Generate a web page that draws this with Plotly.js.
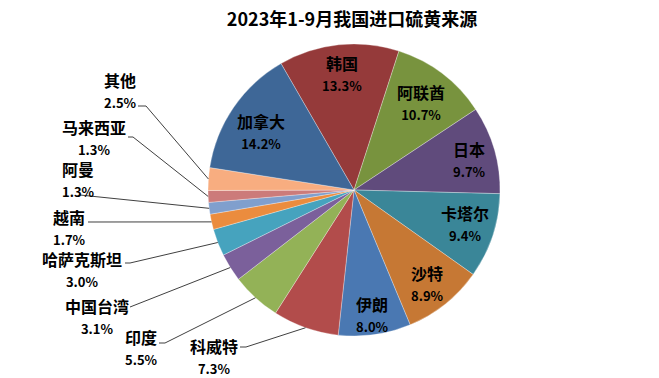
<!DOCTYPE html>
<html>
<head>
<meta charset="utf-8">
<script src="https://cdn.plot.ly/plotly-3.0.1.min.js"></script>
<style>html,body{margin:0;padding:0;background:#fff;}#chart{width:659px;height:378px;}</style>
</head>
<body>
<div id="chart"></div>
<script>
// Data (clockwise from the 韩国 slice)
const labels = ['韩国','阿联酋','日本','卡塔尔','沙特','伊朗','科威特','印度','中国台湾','哈萨克斯坦','越南','阿曼','马来西亚','其他','加拿大'];
const values = [13.3, 10.7, 9.7, 9.4, 8.9, 8.0, 7.3, 5.5, 3.1, 3.0, 1.7, 1.3, 1.3, 2.5, 14.2];
const titleText = '2023年1-9月我国进口硫黄来源';

// Styles
const colors = ['#953A3A','#78933E','#604B7C','#3A8698','#C67834','#4A78B2','#B24C4B','#93B257','#7B609B','#46A3BE','#EB8C3E','#809FCD','#CC7B7A','#F8AD80','#3E6797'];
const W = 659, H = 378;
const CX = 354, CY = 190, R = 146;   // pie geometry in px
const ROT = -30;
// label block centres (px) and leader-line starts (px, null = inside label)
const labelPos = [[342,73],[421,102],[469,159],[465,223],[428,283],[372,314],[214,356],[141,347],[97,316],[82,269],[69,227],[78,179],[94,137],[120,90],[261,131]];
const leaderStart = [null,null,null,null,null,null,[240,347,6],[159,343,6],[130,307,0],[125,263,5],[88,222,0],[80,195,0],[128,137,5],[138,106,8],null];

const px = x => x / W, py = y => 1 - y / H;
const total = values.reduce((a,b)=>a+b,0);

const annotations = [];
const shapes = [];
let cum = 0;
values.forEach((v,i) => {
  const mid = (ROT + (cum + v/2) / total * 360) * Math.PI / 180;
  cum += v;
  annotations.push({
    xref:'paper', yref:'paper', x:px(labelPos[i][0]), y:py(labelPos[i][1]),
    xanchor:'center', yanchor:'middle', showarrow:false, borderpad:0,
    text: labels[i] + '<br><span style="font-size:13px">' + v.toFixed(1) + '%</span>',
    font:{family:'"Noto Sans CJK SC", sans-serif', size:16, color:'#000', weight:'bold'}
  });
  const s = leaderStart[i];
  if (s) {
    const ex = CX + R * Math.sin(mid), ey = CY - R * Math.cos(mid);
    shapes.push({
      type:'path', xref:'paper', yref:'paper',
      path:`M ${px(s[0])},${py(s[1])} L ${px(s[0]+s[2])},${py(s[1])} L ${px(ex)},${py(ey)}`,
      line:{color:'#404040', width:1}
    });
  }
});

const trace = {
  type:'pie', labels: labels, values: values, sort:false, direction:'clockwise', rotation: ROT,
  textinfo:'none', hoverinfo:'none',
  marker:{colors: colors, line:{color:'rgba(255,255,255,0.5)', width:0.6}},
  domain:{x:[px(CX-R), px(CX+R)], y:[py(CY+R), py(CY-R)]}
};

const layout = {
  width: W, height: H, margin:{l:0,r:0,t:0,b:0},
  paper_bgcolor:'#fff', showlegend:false,
  title:{text:titleText, x:px(352), xanchor:'center', y:py(20), yanchor:'middle', yref:'container',
         font:{family:'"Noto Sans CJK SC", sans-serif', size:18, color:'#000', weight:'bold'}},
  annotations: annotations, shapes: shapes
};

Plotly.newPlot('chart', [trace], layout, {staticPlot:true, displayModeBar:false});
</script>
</body>
</html>
